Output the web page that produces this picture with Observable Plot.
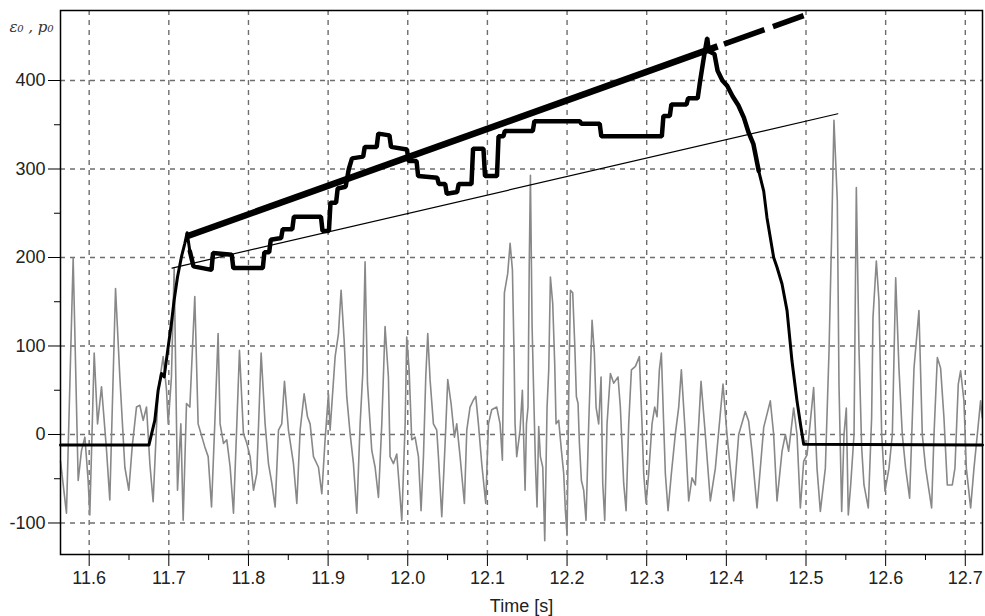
<!DOCTYPE html>
<html>
<head>
<meta charset="utf-8">
<script src="https://cdn.jsdelivr.net/npm/d3@7"></script>
<script src="https://cdn.jsdelivr.net/npm/@observablehq/plot@0.6"></script>
<style>
  body { margin: 0; background: #fff; }
  #chart { width: 985px; height: 616px; }
</style>
</head>
<body>
<div id="chart"></div>
<script>
// Excitation signal p0 (grey trace)
const grayTime = [
  11.564, 11.5715, 11.5799, 11.5862, 11.5904, 11.5946, 11.5987, 11.6008, 11.6063, 11.6105,
  11.6155, 11.6218, 11.6259, 11.6331, 11.6385, 11.6448, 11.6498, 11.6540, 11.6594, 11.6636,
  11.6678, 11.6720, 11.6762, 11.6803, 11.6866, 11.6929, 11.6971, 11.6992, 11.7033, 11.7067,
  11.7109, 11.7151, 11.7180, 11.7222, 11.7264, 11.7326, 11.7368, 11.7452, 11.7494, 11.7536,
  11.7577, 11.7619, 11.7644, 11.7686, 11.7728, 11.7770, 11.7812, 11.7854, 11.7887, 11.7937,
  11.7979, 11.8021, 11.8063, 11.8105, 11.8159, 11.8209, 11.8251, 11.8293, 11.8335, 11.8377,
  11.8418, 11.8452, 11.8502, 11.8565, 11.8607, 11.8649, 11.8699, 11.8741, 11.8774, 11.8816,
  11.8879, 11.8921, 11.8962, 11.9004, 11.9025, 11.9088, 11.9130, 11.9163, 11.9201, 11.9234,
  11.9276, 11.9318, 11.9360, 11.9402, 11.9435, 11.9464, 11.9494, 11.9527, 11.9548, 11.9590,
  11.9632, 11.9674, 11.9715, 11.9757, 11.9778, 11.9820, 11.9862, 11.9904, 11.9925, 11.9967,
  11.9987, 12.0017, 12.0050, 12.0092, 12.0134, 12.0167, 12.0197, 12.0226, 12.0251, 12.0280,
  12.0322, 12.0364, 12.0385, 12.0427, 12.0469, 12.0502, 12.0544, 12.0586, 12.0615, 12.0657,
  12.0711, 12.0741, 12.0782, 12.0824, 12.0854, 12.0887, 12.0929, 12.0979, 12.1013, 12.1054,
  12.1117, 12.1159, 12.1188, 12.1213, 12.1255, 12.1285, 12.1314, 12.1335, 12.1347, 12.1368,
  12.1410, 12.1439, 12.1473, 12.1490, 12.1510, 12.1525, 12.1540, 12.1561, 12.1582, 12.1603,
  12.1623, 12.1644, 12.1665, 12.1695, 12.1720, 12.1749, 12.1770, 12.1791, 12.1820, 12.1845,
  12.1862, 12.1895, 12.1929, 12.1958, 12.1979, 12.2000, 12.2021, 12.2042, 12.2071, 12.2096,
  12.2117, 12.2138, 12.2155, 12.2180, 12.2209, 12.2238, 12.2272, 12.2314, 12.2343, 12.2364,
  12.2397, 12.2427, 12.2448, 12.2473, 12.2502, 12.2544, 12.2586, 12.2640, 12.2669, 12.2711,
  12.2741, 12.2774, 12.2808, 12.2858, 12.2908, 12.2941, 12.2962, 12.2992, 12.3025, 12.3067,
  12.3100, 12.3130, 12.3159, 12.3184, 12.3213, 12.3234, 12.3268, 12.3310, 12.3360, 12.3402,
  12.3435, 12.3485, 12.3527, 12.3569, 12.3611, 12.3682, 12.3736, 12.3799, 12.3862, 12.3958,
  12.4008, 12.4050, 12.4092, 12.4155, 12.4238, 12.4280, 12.4322, 12.4385, 12.4469, 12.4552,
  12.4594, 12.4636, 12.4699, 12.4741, 12.4782, 12.4845, 12.4887, 12.4929, 12.4971, 12.5013,
  12.5096, 12.5138, 12.5180, 12.5243, 12.5289, 12.5322, 12.5351, 12.5393, 12.5414, 12.5448,
  12.5477, 12.5506, 12.5531, 12.5561, 12.5603, 12.5632, 12.5665, 12.5699, 12.5728, 12.5782,
  12.5824, 12.5841, 12.5883, 12.5916, 12.5950, 12.5992, 12.6042, 12.6084, 12.6126, 12.6167,
  12.6209, 12.6251, 12.6301, 12.6356, 12.6418, 12.6460, 12.6502, 12.6577, 12.6607, 12.6649,
  12.6690, 12.6732, 12.6774, 12.6837, 12.6870, 12.6912, 12.6941, 12.6983, 12.7013, 12.7067,
  12.7109, 12.7151, 12.7192, 12.7213
];
const grayValue = [
  -30, -89, 199, -52, -18, -3, -52, -91, 92, 12,
  54, -18, -74, 165, 65, -37, -63, -14, 31, 33,
  16, 31, -33, -76, 50, 88, 50, 12, 65, 188,
  -63, 12, -97, 35, 31, 156, 12, -14, -25, -82,
  12, 114, 12, -10, -6, -37, -89, 12, 95, 1,
  -10, -25, -63, -44, 92, 12, -33, -55, -82, 5,
  12, 60, 5, -33, -78, 5, 46, 20, 12, -25,
  -37, -67, -6, 46, 5, 88, 114, 163, 107, 43,
  1, -33, -89, 12, 69, 195, 58, 12, -18, -37,
  -71, 12, 122, 65, -25, -33, -22, -71, -97, 12,
  110, 73, -6, -3, -25, -86, -25, 65, 114, 62,
  12, 5, -25, -93, -10, 62, 35, -3, 12, -25,
  -78, 5, 31, 39, 43, 12, -33, -78, 12, 28,
  31, 12, -29, 160, 182, 216, 186, 88, 12, -25,
  5, 50, -63, 12, 31, 190, 293, 122, 43, -33,
  -82, 9, -25, -37, -120, 31, 73, 178, 148, 80,
  12, 16, -18, -44, -86, -114, 43, 163, 160, 103,
  43, 35, -10, -52, -63, -97, 12, 129, 92, 31,
  12, 65, -55, -97, 12, 69, 58, 65, 31, -55,
  -86, 12, 73, 77, 88, 12, -44, -78, -44, 12,
  31, 20, 73, 92, 12, -44, -86, -44, 1, 31,
  73, 0, -75, -49, -57, 60, 0, -75, -38, 57,
  0, -38, -75, 0, 26, 15, -19, -83, 8, 38,
  0, -75, -19, 0, -19, 30, 0, -83, -30, -23,
  53, -38, -87, -38, 94, 226, 355, 264, 57, -87,
  0, 30, -91, -57, 0, 279, 98, -15, -57, -83,
  19, 132, 196, 151, 0, -64, -38, 0, 177, 75,
  0, -38, -72, 75, 140, 0, -38, -83, 0, 87,
  75, 19, -57, -57, -38, 57, 72, 38, -38, -83,
  -38, 0, 38, 19
];

// Measured signal e0 (black staircase trace)
const blackTime = [
  11.564, 11.675, 11.6824, 11.6866, 11.6908, 11.6941, 11.6992, 11.7033, 11.7067, 11.7109,
  11.7159, 11.7201, 11.723, 11.7264, 11.731, 11.7536, 11.7555, 11.779, 11.781, 11.818,
  11.820, 11.826, 11.828, 11.841, 11.843, 11.855, 11.857, 11.891, 11.893, 11.901,
  11.903, 11.910, 11.912, 11.922, 11.926, 11.930, 11.944, 11.946, 11.961, 11.963,
  11.977, 11.979, 11.999, 12.001, 12.011, 12.013, 12.037, 12.039, 12.047, 12.049,
  12.062, 12.064, 12.080, 12.082, 12.095, 12.097, 12.112, 12.114, 12.120, 12.122,
  12.157, 12.159, 12.216, 12.218, 12.241, 12.243, 12.319, 12.321, 12.329, 12.331,
  12.350, 12.352, 12.364, 12.367, 12.371, 12.373, 12.376, 12.378, 12.385, 12.389,
  12.395, 12.401, 12.408, 12.415, 12.422, 12.428, 12.434, 12.4406, 12.4469, 12.451,
  12.4594, 12.4636, 12.4699, 12.4762, 12.4824, 12.4887, 12.4937, 12.4971, 12.7216
];
const blackValue = [
  -12, -12, 16, 50, 69, 65, 99, 126, 152, 178,
  201, 216, 228, 207, 190, 186, 205, 203, 188, 188,
  206, 206, 220, 222, 232, 232, 246, 246, 230, 230,
  262, 262, 278, 280, 300, 312, 314, 325, 325, 340,
  338, 325, 322, 309, 309, 292, 290, 283, 283, 272,
  274, 283, 283, 323, 323, 292, 292, 337, 337, 343,
  343, 354, 354, 351, 351, 337, 337, 360, 360, 373,
  373, 380, 380, 399, 422, 433, 448, 433, 430, 411,
  400, 394, 382, 372, 358, 341, 328, 298, 275, 245,
  200, 189, 170, 140, 83, 38, 8, -11, -12
];

// Fitted trend (thick), its extrapolation (dashed) and the lower bound line (thin)
const trendTime = [11.722, 12.389];
const trendValue = [223.7, 438.5];
const forecastTime = [12.397, 12.497];
const forecastValue = [441.1, 473.3];
const boundTime = [11.704, 12.540];
const boundValue = [188, 362.4];

// Axis ticks
const xTicks = [11.6, 11.7, 11.8, 11.9, 12.0, 12.1, 12.2, 12.3, 12.4, 12.5, 12.6, 12.7];
const xMinorTicks = [11.65, 11.75, 11.85, 11.95, 12.05, 12.15, 12.25, 12.35, 12.45, 12.55, 12.65];
const yTicks = [-100, 0, 100, 200, 300, 400];
const yMinorTicks = [-50, 50, 150, 250, 350];

const rows = (ts, vs) => ts.map((t, i) => ({t, v: vs[i]}));
const gray = rows(grayTime, grayValue);
const black = rows(blackTime, blackValue);
const blackNoisy = black.filter(d => d.t > 11.724 && d.t < 12.445);

const font = "Liberation Sans, Arial, sans-serif";
const gridStyle = {stroke: "#6e6e6e", strokeOpacity: 1, strokeWidth: 1.4, strokeDasharray: "5,5"};

const chart = Plot.plot({
  width: 985,
  height: 616,
  marginLeft: 60,
  marginRight: 3,
  marginTop: 10,
  marginBottom: 62,
  style: {fontFamily: font, fontSize: "18px", background: "#fff", color: "#222"},
  x: {domain: [11.564, 12.7216]},
  y: {domain: [-135.6, 479.1]},
  marks: [
    Plot.gridX(xTicks, gridStyle),
    Plot.gridY(yTicks, gridStyle),
    Plot.line(gray, {x: "t", y: "v", stroke: "#888", strokeWidth: 1.6}),
    Plot.line(black, {x: "t", y: "v", stroke: "#000", strokeWidth: 3}),
    Plot.line(blackNoisy, {x: "t", y: "v", stroke: "#000", strokeWidth: 4.5, strokeLinejoin: "miter"}),
    Plot.line(rows(boundTime, boundValue), {x: "t", y: "v", stroke: "#000", strokeWidth: 1.2}),
    Plot.line(rows(trendTime, trendValue), {x: "t", y: "v", stroke: "#000", strokeWidth: 6.5, strokeLinecap: "butt"}),
    Plot.line(rows(forecastTime, forecastValue), {x: "t", y: "v", stroke: "#000", strokeWidth: 5.5, strokeDasharray: "43,9", strokeLinecap: "butt"}),
    Plot.frame({stroke: "#000", strokeWidth: 1.5}),
    Plot.axisX(xTicks, {tickSize: 12, tickPadding: 5, tickFormat: d => d.toFixed(1), fontSize: 18, stroke: "#000", fill: "#222", label: null}),
    Plot.axisX(xMinorTicks, {tickSize: 6, tickFormat: () => "", stroke: "#000", label: null}),
    Plot.axisY(yTicks, {tickSize: 12, tickPadding: 3, tickFormat: d => String(d), fontSize: 18, stroke: "#000", fill: "#222", label: null}),
    Plot.axisY(yMinorTicks, {tickSize: 6, tickFormat: () => "", stroke: "#000", label: null}),
    Plot.text(["Time [s]"], {frameAnchor: "bottom", dy: 45, lineAnchor: "top", fontSize: 18, fill: "#222"}),
    Plot.text(["ε₀ , p₀"], {frameAnchor: "top-left", dx: -51, dy: 21, textAnchor: "start", lineAnchor: "bottom",
      fontFamily: "DejaVu Serif, serif", fontStyle: "italic", fontSize: 15, fill: "#333"})
  ]
});
document.getElementById("chart").appendChild(chart);
</script>
</body>
</html>
